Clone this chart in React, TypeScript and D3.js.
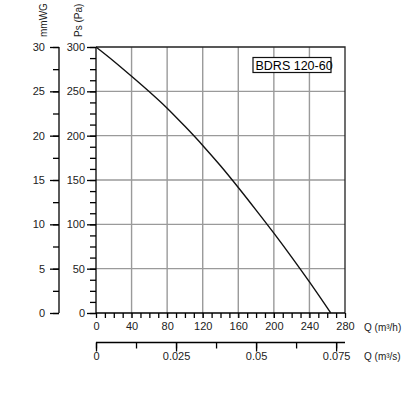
import React, { useEffect, useRef } from 'react';
import * as d3 from 'd3';

// fan curve: flow in m3/h, static pressure in Pa
const flowM3h = [0, 20, 40, 60, 80, 100, 120, 140, 160, 180, 200, 220, 240, 264];
const pressurePa = [300, 284, 267, 249.5, 231, 210.5, 189, 166, 141.5, 116, 90, 63, 35, 0];

const paTicks = [0, 50, 100, 150, 200, 250, 300];
const mmTicks = [0, 5, 10, 15, 20, 25, 30];
const qhTicks = [0, 40, 80, 120, 160, 200, 240, 280];
const qsTicks = [0, 0.025, 0.05, 0.075];
const modelName = 'BDRS 120-60';

const W = 406,
  H = 397;
const FONT = 'Liberation Sans, Arial, sans-serif';

const buildChart = (el: SVGSVGElement) => {
  const svg = d3.select(el);
  svg.selectAll('*').remove();

  const left = 96,
    right = 345,
    top = 47,
    bottom = 313;

  const x = d3.scaleLinear().domain([0, 280]).range([left, right]);
  const y = d3.scaleLinear().domain([0, 300]).range([bottom, top]);
  const yMm = d3.scaleLinear().domain([0, 30]).range([bottom, top]);
  // 1 m3/s = 3600 m3/h
  const xS = d3.scaleLinear().domain([0, 280 / 3600]).range([left, right]);

  // grid
  const grid = svg.append('g').attr('stroke', '#9a9a9a').attr('stroke-width', 1.4);
  qhTicks.slice(1, -1).forEach(q => {
    grid.append('line').attr('x1', x(q)).attr('x2', x(q)).attr('y1', top).attr('y2', bottom + 5);
  });
  paTicks.slice(1, -1).forEach(p => {
    grid.append('line').attr('x1', left).attr('x2', right).attr('y1', y(p)).attr('y2', y(p));
  });

  // frame: top and right
  svg
    .append('path')
    .attr('d', `M${left},${top}H${right}V${bottom}`)
    .attr('fill', 'none')
    .attr('stroke', '#222')
    .attr('stroke-width', 1.3);

  // Pa axis
  const paAxis = svg.append('g').attr('transform', `translate(${left},0)`);
  paAxis
    .call(
      d3.axisLeft(y).tickValues(d3.range(0, 301, 12.5)).tickSize(6).tickFormat(() => '')
    )
    .call(g => g.select('.domain').remove());
  paAxis
    .append('g')
    .call(d3.axisLeft(y).tickValues(paTicks).tickSize(9).tickPadding(2).tickFormat(d3.format('d')))
    .call(g => g.select('.domain').remove());
  paAxis
    .append('line')
    .attr('y1', top)
    .attr('y2', bottom)
    .attr('stroke', '#000')
    .attr('stroke-width', 1.3);

  // mmWG axis
  const mmAxis = svg.append('g').attr('transform', 'translate(59,0)');
  mmAxis
    .call(d3.axisLeft(yMm).tickValues(d3.range(0, 31, 2.5)).tickSize(6).tickFormat(() => ''))
    .call(g => g.select('.domain').remove());
  mmAxis
    .append('g')
    .call(d3.axisLeft(yMm).tickValues(mmTicks).tickSize(9).tickPadding(5).tickFormat(d3.format('d')))
    .call(g => g.select('.domain').remove());
  mmAxis
    .append('line')
    .attr('y1', top)
    .attr('y2', bottom)
    .attr('stroke', '#000')
    .attr('stroke-width', 1.3);

  // Q m3/h axis
  const qhAxis = svg.append('g').attr('transform', `translate(0,${bottom})`);
  qhAxis
    .call(d3.axisBottom(x).tickValues(d3.range(0, 281, 10)).tickSize(5).tickFormat(() => ''))
    .call(g => g.select('.domain').remove());
  qhAxis
    .append('g')
    .call(d3.axisBottom(x).tickValues(qhTicks).tickSize(0).tickPadding(9).tickFormat(d3.format('d')))
    .call(g => g.select('.domain').remove());
  qhAxis
    .append('line')
    .attr('x1', left)
    .attr('x2', right)
    .attr('stroke', '#000')
    .attr('stroke-width', 1.3);

  // Q m3/s axis
  const qsAxis = svg.append('g').attr('transform', 'translate(0,342.5)');
  qsAxis
    .call(d3.axisBottom(xS).tickValues(d3.range(0, 0.0751, 0.0125)).tickSize(6).tickFormat(() => ''))
    .call(g => g.select('.domain').remove());
  qsAxis
    .append('g')
    .call(
      d3
        .axisBottom(xS)
        .tickValues(qsTicks)
        .tickSize(9)
        .tickPadding(1)
        .tickFormat(d => (d === 0 ? '0' : String(d)))
    )
    .call(g => g.select('.domain').remove());
  qsAxis
    .append('line')
    .attr('x1', left)
    .attr('x2', right)
    .attr('stroke', '#000')
    .attr('stroke-width', 1.3);

  svg
    .selectAll('.tick line')
    .attr('stroke', '#000')
    .attr('stroke-width', 1.3);
  svg
    .selectAll('.tick text')
    .attr('font-family', FONT)
    .attr('font-size', 11)
    .attr('fill', '#222');

  // unit labels
  const label = (t: string, lx: number, ly: number, rotate = false) => {
    const txt = svg
      .append('text')
      .attr('font-family', FONT)
      .attr('font-size', 10)
      .attr('fill', '#222')
      .text(t);
    if (rotate) {
      txt.attr('transform', `translate(${lx},${ly}) rotate(-90)`);
    } else {
      txt.attr('x', lx).attr('y', ly);
    }
  };
  label('Q (m³/h)', 364, 330.5);
  label('Q (m³/s)', 364, 360);
  label('mmWG', 47, 37, true);
  label('Ps (Pa)', 82, 37, true);

  // curve
  const pts = flowM3h.map((q, i) => [q, pressurePa[i]] as [number, number]);
  const line = d3
    .line<[number, number]>()
    .x(d => x(d[0]))
    .y(d => y(d[1]))
    .curve(d3.curveMonotoneX);
  svg
    .append('path')
    .datum(pts)
    .attr('d', line)
    .attr('fill', 'none')
    .attr('stroke', '#111')
    .attr('stroke-width', 1.4);

  // model box
  const box = svg.append('g');
  box
    .append('rect')
    .attr('x', 253)
    .attr('y', 57.5)
    .attr('width', 78)
    .attr('height', 15)
    .attr('fill', '#fff')
    .attr('stroke', '#111')
    .attr('stroke-width', 1.2);
  box
    .append('text')
    .attr('x', 255.5)
    .attr('y', 70)
    .attr('font-family', FONT)
    .attr('font-size', 12.5)
    .attr('fill', '#000')
    .text(modelName);
};

const App = () => {
  const ref = useRef<SVGSVGElement>(null);
  useEffect(() => {
    if (ref.current) buildChart(ref.current);
  });
  return (
    <svg
      ref={ref}
      width={W}
      height={H}
      style={{ position: 'absolute', left: 0, top: 0, background: '#fff' }}
    />
  );
};

export default App;
